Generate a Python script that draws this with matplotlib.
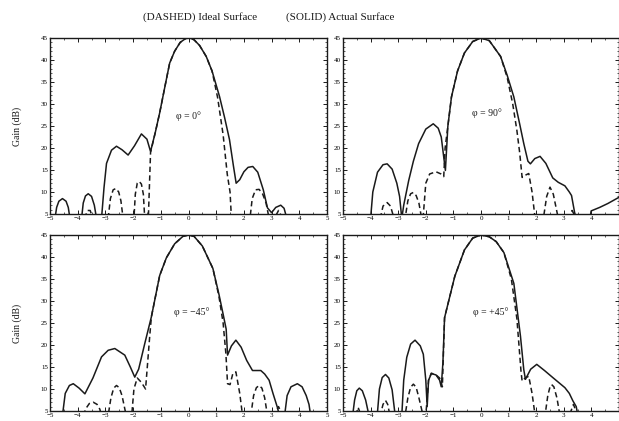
import numpy as np
import matplotlib
matplotlib.use('Agg')
import matplotlib.pyplot as plt
from matplotlib.ticker import MultipleLocator, FixedLocator

plt.rcParams['font.family'] = ['Liberation Serif', 'DejaVu Serif']

# ---- podaci: svaka ploca ima punu (stvarna povrsina) i isprekidanu (idealna) krivu
# phi = 0
p0_solid_x = [-4.82, -4.76, -4.68, -4.55, -4.42, -4.34, -4.28,
              -3.86, -3.8, -3.72, -3.62, -3.5, -3.4, -3.32,
              -3.14, -3.05, -2.96, -2.78, -2.6, -2.4, -2.18, -1.95, -1.7, -1.5, -1.37,
              -1.2, -1.04, -0.85, -0.68, -0.5, -0.3, -0.1, 0.05, 0.2, 0.4, 0.64, 0.85,
              1.12, 1.3, 1.48, 1.62, 1.72, 1.85, 2.0, 2.15, 2.32, 2.5, 2.7, 2.85,
              3.0, 3.15, 3.33, 3.45, 3.55]
p0_solid_y = [4, 6.5, 7.9, 8.5, 7.9, 6.5, 4,
              4, 7.5, 9.1, 9.6, 9.0, 7.0, 4,
              4, 11, 16.5, 19.5, 20.4, 19.6, 18.4, 20.5, 23.2, 22, 19.2,
              23.5, 28, 34, 39.3, 42, 44, 44.9, 45, 44.6, 43.3, 40.8, 37.5,
              31.7, 27, 21.9, 16, 12, 12.8, 14.6, 15.6, 15.8, 14.5, 10.5, 6.4,
              5.3, 6.5, 7.0, 6.3, 4]
p0_dash_x = [-3.75, -3.65, -3.55, -3.45,
             -2.9, -2.82, -2.72, -2.62, -2.52, -2.44, -2.36,
             -1.97, -1.92, -1.85, -1.78, -1.7, -1.63, -1.58,
             -1.45, -1.37, -1.2, -1.04, -0.85, -0.68, -0.5, -0.3, -0.1, 0.05, 0.2,
             0.4, 0.64, 0.85, 1.05, 1.25, 1.4, 1.5, 1.55,
             2.22, 2.3, 2.42, 2.55, 2.68, 2.8, 2.91,
             3.1, 3.25, 3.4]
p0_dash_y = [4, 5.8, 5.8, 4,
             4, 8.5, 10.5, 10.8, 10.0, 8.0, 4,
             4, 9.5, 12.0, 12.4, 11.8, 9.5, 4,
             4, 19, 23.5, 28, 34, 39.3, 42, 44, 44.9, 45, 44.6,
             43.3, 40.8, 37.5, 31.5, 23, 14, 10, 4,
             4, 8.5, 10.5, 10.6, 9.5, 7.5, 4,
             4, 5.8, 4]

# phi = 90
p1_solid_x = [-4.0, -3.92, -3.75, -3.55, -3.4, -3.22, -3.05, -2.95, -2.87,
              -2.8, -2.62, -2.45, -2.26, -2.0, -1.73, -1.55, -1.44, -1.29,
              -1.2, -1.07, -0.85, -0.6, -0.3, 0.0, 0.3, 0.71, 0.95, 1.19, 1.4, 1.55,
              1.7, 1.79, 1.95, 2.14, 2.35, 2.6, 2.8, 3.04, 3.2, 3.28, 3.39, 3.45,
              3.95, 3.99, 4.3, 4.6, 5.0]
p1_solid_y = [4, 10, 14.5, 16.2, 16.4, 15.2, 12, 9, 4,
              7, 12.6, 17, 21, 24.3, 25.5, 24.5, 22.5, 14.9,
              25, 31.6, 37.5, 41.6, 44.2, 45, 44.4, 40.8, 36.5, 31.6, 25.5, 21,
              17, 16.4, 17.6, 18.1, 16.5, 13.2, 12.2, 11.4, 10, 9.2, 5.4, 4,
              4, 5.7, 6.5, 7.4, 8.8]
p1_dash_x = [-3.65, -3.55, -3.4, -3.28, -3.15,
             -2.75, -2.65, -2.55, -2.45, -2.35, -2.25, -2.15,
             -2.1, -2.0, -1.86, -1.63, -1.45, -1.35,
             -1.3, -1.2, -1.07, -0.85, -0.6, -0.3, 0.0, 0.3, 0.71, 0.95,
             1.15, 1.3, 1.4, 1.49, 1.6, 1.73, 1.85, 1.96,
             2.26, 2.38, 2.5, 2.62, 2.8,
             3.15, 3.3, 3.45]
p1_dash_y = [4, 6.8, 7.6, 6.8, 4,
             4, 8.0, 9.6, 9.9, 9.2, 7.5, 4,
             4, 12, 14.1, 14.6, 14.1, 13.5,
             20, 25, 31.6, 37.5, 41.6, 44.2, 45, 44.4, 40.8, 36,
             30, 24, 19, 13.3, 13.8, 14.2, 10, 4,
             4, 9, 11.1, 9.5, 4,
             4, 5.8, 4]

# phi = -45
p2_solid_x = [-4.55, -4.45, -4.3, -4.16, -3.95, -3.74, -3.45, -3.14, -2.9, -2.66,
              -2.3, -2.1, -1.94, -1.8, -1.58, -1.34, -1.04, -0.8, -0.5, -0.2, 0.0,
              0.2, 0.5, 0.88, 1.1, 1.25, 1.36, 1.41, 1.55, 1.71, 1.9, 2.1, 2.31,
              2.61, 2.75, 2.91, 3.05, 3.21, 3.28,
              3.47, 3.56, 3.7, 3.93, 4.1, 4.25, 4.35, 4.41]
p2_solid_y = [4, 9, 10.8, 11.2, 10.2, 8.9, 12.5, 17.3, 18.8, 19.2,
              17.7, 15, 12.7, 14.5, 20.3, 26.4, 35.8, 39.8, 43, 44.7, 45,
              44.7, 42.5, 37.4, 31.5, 27, 23.6, 17.7, 19.8, 21.1, 19.5, 16.5, 14.2,
              14.2, 13.4, 12, 9, 5.8, 4,
              4, 8.5, 10.5, 11.2, 10.5, 8.5, 6.5, 4]
p2_dash_x = [-3.8, -3.7, -3.58, -3.44, -3.3, -3.2, -3.15,
             -2.9, -2.8, -2.7, -2.6, -2.5, -2.4, -2.25,
             -2.05, -1.97, -1.85, -1.7, -1.55, -1.5, -1.4, -1.34, -1.04, -0.8,
             -0.5, -0.2, 0.0, 0.2, 0.5, 0.88, 1.1, 1.25, 1.35, 1.41, 1.5, 1.6,
             1.71, 1.85, 1.95,
             2.25, 2.35, 2.45, 2.55, 2.65, 2.75, 2.85,
             3.1, 3.25, 3.4]
p2_dash_y = [4, 5.6, 6.7, 7.0, 6.5, 5.4, 4,
             4, 8.0, 10.2, 10.8, 10.3, 8.5, 4,
             4, 10, 12.5, 11.5, 10, 14, 22, 26.4, 35.8, 39.8,
             43, 44.7, 45, 44.7, 42.5, 37.4, 31, 25, 18, 11.2, 11, 13.5,
             13.9, 9, 4,
             4, 8.5, 10.3, 10.8, 10.2, 8.0, 4,
             4, 6, 4]

# phi = +45
p3_solid_x = [-4.65, -4.58, -4.5, -4.41, -4.3, -4.18, -4.06,
              -3.76, -3.68, -3.58, -3.46, -3.34, -3.22, -3.11,
              -2.87, -2.8, -2.69, -2.55, -2.39, -2.2, -2.09, -2.0, -1.95,
              -1.9, -1.8, -1.63, -1.5, -1.44, -1.38, -1.32, -1.25, -0.95, -0.6,
              -0.3, 0.0, 0.3, 0.55, 0.83, 1.19, 1.43, 1.55, 1.61, 1.8, 2.02, 2.3,
              2.62, 3.04, 3.2, 3.33, 3.45, 3.51]
p3_solid_y = [4, 7.5, 9.6, 10.2, 9.6, 7.5, 4,
              4, 10, 12.6, 13.3, 12.5, 9.8, 4,
              4, 12, 17.2, 20.2, 21.1, 19.8, 17.9, 12, 6,
              12, 13.5, 13.2, 12, 10.5, 16, 26.2, 28, 35.6, 41.6,
              44.3, 45, 44.6, 43.5, 41, 34, 22, 14.4, 12.2, 14.5, 15.6, 14.2,
              12.5, 10.3, 9, 7.3, 6, 4]
p3_dash_x = [-4.55, -4.45, -4.35,
             -3.65, -3.55, -3.46, -3.38, -3.3,
             -2.75, -2.65, -2.55, -2.45, -2.35, -2.25, -2.1,
             -2.0, -1.9, -1.8, -1.63, -1.5, -1.4, -1.32, -1.25, -0.95, -0.6,
             -0.3, 0.0, 0.3, 0.55, 0.83, 1.1, 1.3, 1.45, 1.49, 1.6, 1.73, 1.85,
             1.96,
             2.32, 2.42, 2.5, 2.56, 2.64, 2.75, 2.86,
             3.2, 3.35, 3.5]
p3_dash_y = [4, 5.8, 4,
             4, 6.5, 7.4, 6.5, 4,
             4, 8.0, 10.4, 11.1, 10.4, 8.0, 4,
             4, 12, 13.6, 13.2, 12.5, 10.5, 26.2, 28, 35.6, 41.6,
             44.3, 45, 44.6, 43.5, 41, 35, 26, 14, 11.8, 12.5, 12.9, 9,
             4,
             4, 8.5, 10.5, 11, 10.5, 8.0, 4,
             4, 6.5, 4]

oznake = ['\u03c6 = 0\u00b0', '\u03c6 = 90\u00b0', '\u03c6 = \u221245\u00b0', '\u03c6 = +45\u00b0']
oznake_xy = [(0.0, 27.3), (0.2, 28.0), (0.1, 27.5), (0.35, 27.5)]

krive = [(p0_solid_x, p0_solid_y, p0_dash_x, p0_dash_y),
         (p1_solid_x, p1_solid_y, p1_dash_x, p1_dash_y),
         (p2_solid_x, p2_solid_y, p2_dash_x, p2_dash_y),
         (p3_solid_x, p3_solid_y, p3_dash_x, p3_dash_y)]

# ---- crtanje
W, H = 619, 421
fig = plt.figure(figsize=(W / 100, H / 100), dpi=100)

# polozaji ploca u pikselima (levo, desno, gore, dole)
okviri = [(50, 327, 38, 214), (343, 619, 38, 214),
          (50, 327, 235, 411), (343, 619, 235, 411)]

boja = '#1a1a1a'
for i, (l, r, t, b) in enumerate(okviri):
    ax = fig.add_axes([l / W, 1 - b / H, (r - l) / W, (b - t) / H])
    sx, sy, dx, dy = krive[i]
    ax.plot(sx, sy, '-', color=boja, lw=1.1)
    ax.plot(dx, dy, '--', color=boja, lw=1.1, dashes=(3.5, 2.2))
    ax.set_xlim(-5, 5)
    ax.set_ylim(5, 45)
    # desne ploce: oznaka 5 na x osi pada van slike
    if i % 2 == 1:
        ax.xaxis.set_major_locator(FixedLocator(np.arange(-5, 5)))
    else:
        ax.xaxis.set_major_locator(MultipleLocator(1))
    ax.xaxis.set_minor_locator(MultipleLocator(0.5))
    ax.yaxis.set_major_locator(MultipleLocator(5))
    ax.yaxis.set_minor_locator(MultipleLocator(1))
    ax.tick_params(which='both', direction='in', top=True, right=True,
                   labelsize=5, pad=1.5, color=boja)
    ax.tick_params(which='major', length=3, width=0.7)
    ax.tick_params(which='minor', length=1.5, width=0.5)
    for s in ax.spines.values():
        s.set_linewidth(1.0)
        s.set_color(boja)
    ax.text(oznake_xy[i][0], oznake_xy[i][1], oznake[i], fontsize=7,
            ha='center', va='center', color=boja)

fig.text(200 / W, 1 - 17 / H, '(DASHED) Ideal Surface', fontsize=8,
         ha='center', va='center', color=boja)
fig.text(340 / W, 1 - 17 / H, '(SOLID) Actual Surface', fontsize=8,
         ha='center', va='center', color=boja)
for yc in (126, 323):
    fig.text(17 / W, 1 - yc / H, 'Gain (dB)', fontsize=7, rotation=90,
             ha='center', va='center', color=boja)

plt.savefig('out.png', dpi=100)
